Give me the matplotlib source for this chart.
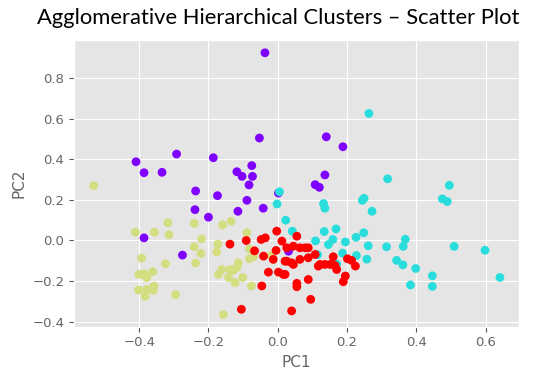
import matplotlib
matplotlib.use("Agg")
import matplotlib.pyplot as plt
import numpy as np

# Cluster 0 (purple)
c0_x = [-0.037, -0.053, -0.409, -0.386, -0.334, -0.292, -0.186, -0.118, -0.103, -0.075,
        -0.073, -0.083, -0.237, 0.140, 0.188, 0.136, 0.108, 0.120, -0.174, 0.002,
        -0.089, -0.239, -0.115, -0.042, -0.200, -0.386, -0.275, 0.031]
c0_y = [0.925, 0.505, 0.388, 0.334, 0.336, 0.426, 0.408, 0.339, 0.316, 0.369,
        0.316, 0.274, 0.244, 0.511, 0.462, 0.323, 0.275, 0.262, 0.221, 0.234,
        0.198, 0.152, 0.144, 0.159, 0.115, 0.013, -0.072, -0.053]

# Cluster 1 (cyan)
c1_x = [0.263, 0.317, 0.495, 0.005, -0.002, 0.023, 0.042, 0.475, 0.489, 0.132,
        0.136, 0.244, 0.249, 0.272, 0.134, 0.168, 0.248, 0.109, 0.159, 0.146,
        0.195, 0.226, 0.261, 0.314, 0.368, 0.362, 0.509, 0.598, 0.641, 0.115,
        0.187, 0.227, 0.257, 0.343, 0.361, 0.398, 0.446, 0.383, 0.446, 0.170]
c1_y = [0.626, 0.304, 0.272, 0.240, 0.180, 0.100, 0.046, 0.205, 0.192, 0.182,
        0.159, 0.198, 0.208, 0.144, 0.044, 0.057, 0.038, -0.002, 0.005, -0.020,
        -0.007, 0.016, -0.026, -0.031, 0.006, -0.029, -0.029, -0.048, -0.182, -0.070,
        -0.062, -0.074, -0.092, -0.098, -0.120, -0.138, -0.174, -0.219, -0.226, -0.116]

# Cluster 2 (yellow)
c2_x = [-0.531, -0.411, -0.356, -0.317, -0.314, -0.241, -0.220, -0.241, -0.222, -0.237,
        -0.159, -0.135, -0.173, -0.176, -0.089, -0.082, -0.070, -0.070, -0.082, -0.019,
        -0.157, -0.076, -0.393, -0.401, -0.386, -0.378, -0.361, -0.324, -0.402, -0.378,
        -0.383, -0.357, -0.359, -0.295, -0.171, -0.162, -0.138, -0.128, -0.114, -0.118,
        -0.142, -0.123, -0.101]
c2_y = [0.270, 0.041, 0.041, 0.087, 0.028, 0.084, 0.008, -0.031, -0.064, -0.111,
        0.077, 0.095, -0.018, -0.057, 0.038, -0.041, -0.052, -0.080, -0.090, -0.074,
        -0.365, -0.224, -0.087, -0.167, -0.164, -0.183, -0.154, -0.115, -0.244, -0.241,
        -0.274, -0.224, -0.246, -0.267, -0.167, -0.143, -0.143, -0.147, -0.110, -0.134,
        -0.183, -0.208, -0.183]

# Cluster 3 (red)
c3_x = [-0.138, -0.091, -0.048, -0.036, -0.003, 0.012, 0.055, -0.067, -0.041, -0.005,
        -0.013, 0.021, 0.040, 0.064, 0.088, 0.026, 0.045, 0.064, 0.079, 0.088,
        0.108, -0.027, 0.002, 0.016, 0.021, -0.046, 0.055, 0.055, 0.088, 0.095,
        0.040, -0.105, 0.045, 0.117, 0.122, 0.136, 0.151, 0.165, 0.170, 0.160,
        0.201, 0.213, 0.224, 0.195, 0.189, 0.026]
c3_y = [-0.018, 0.000, 0.005, 0.013, 0.046, -0.003, 0.021, -0.051, -0.077, -0.049,
        -0.093, -0.102, -0.110, -0.093, -0.085, -0.036, -0.028, -0.036, -0.036, -0.036,
        -0.069, -0.156, -0.156, -0.167, -0.167, -0.224, -0.211, -0.228, -0.192, -0.290,
        -0.347, -0.339, -0.118, -0.126, -0.118, -0.118, -0.118, -0.123, -0.143, -0.080,
        -0.090, -0.098, -0.126, -0.175, -0.203, -0.102]

title = "Agglomerative Hierarchical Clusters \u2013 Scatter Plot"
xlabel = "PC1"
ylabel = "PC2"

plt.style.use("ggplot")
fig = plt.figure(figsize=(5.51, 3.76), dpi=100)
ax = fig.add_axes([0.1343, 0.131, 0.8082, 0.7626])

xs = c0_x + c1_x + c2_x + c3_x
ys = c0_y + c1_y + c2_y + c3_y
labels = [0] * len(c0_x) + [1] * len(c1_x) + [2] * len(c2_x) + [3] * len(c3_x)
ax.scatter(xs, ys, c=labels, cmap="rainbow", s=40, linewidths=0)

ax.set_xlim(-0.588, 0.697)
ax.set_ylim(-0.425, 0.988)
ax.set_xticks([-0.4, -0.2, 0.0, 0.2, 0.4, 0.6])
ax.set_yticks([-0.4, -0.2, 0.0, 0.2, 0.4, 0.6, 0.8])
ax.tick_params(labelsize=9.5, colors="#555555", labelcolor="#666666")
ax.set_xlabel(xlabel, fontsize=11, color="#666666")
ax.set_ylabel(ylabel, fontsize=11, color="#666666")

fig.text(0.505, 0.952, title, ha="center", va="center", fontsize=15.8,
         family="Lato", color="black")

fig.savefig("out.png", dpi=100, facecolor="white")
